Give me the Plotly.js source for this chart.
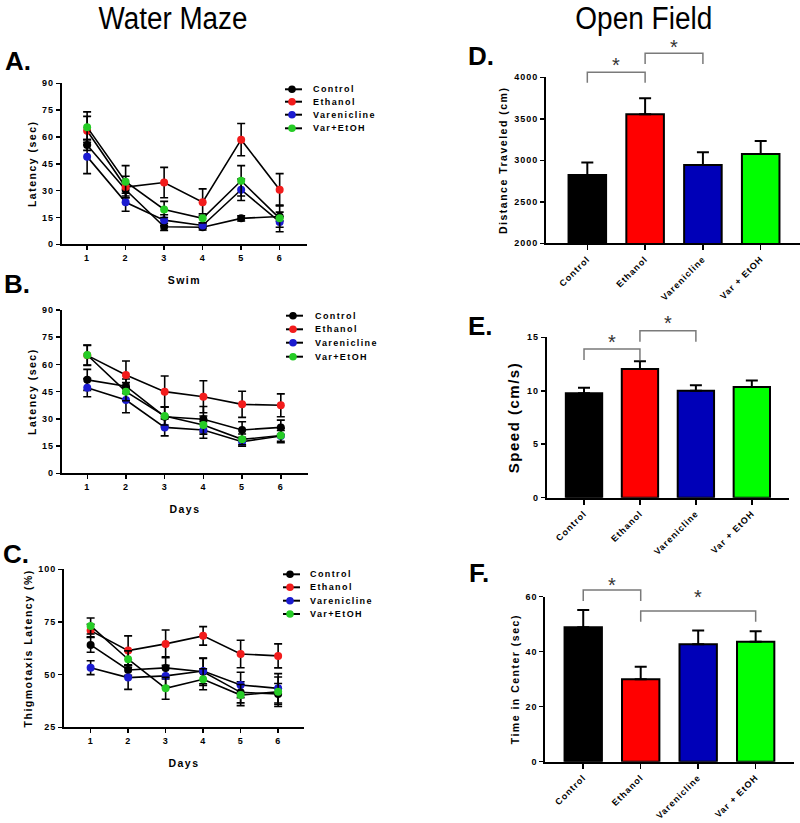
<!DOCTYPE html>
<html><head><meta charset="utf-8">
<script src="https://cdn.plot.ly/plotly-3.0.1.min.js"></script>
<style>
html,body{margin:0;padding:0;background:#fff;}
#chart{width:800px;height:823px;}
[class$="tick"] text, [class$="tick"]{letter-spacing:1px;}
text[class$="title"]{letter-spacing:1.5px;}
</style>
</head><body><div id="chart"></div>
<script>
// ---------- data ----------
const groups = ['Control', 'Ethanol', 'Varenicline', 'Var+EtOH'];
const barCategories = ['Control', 'Ethanol', 'Varenicline', 'Var + EtOH'];
const days = [1, 2, 3, 4, 5, 6];

// A. Water maze latency by swim (sec)
const swimControl = [55.5, 30.5, 9.8, 9.5, 14.5, 15.5];
const swimControlErr = [3, 3.5, 2, 1.5, 1.5, 2.5];
const swimEthanol = [63.5, 32, 34.5, 23.5, 58.5, 30.5];
const swimEthanolErr = [8, 6, 8.5, 7.5, 9, 9];
const swimVarenicline = [49, 23.5, 13.5, 10.5, 30.5, 12.5];
const swimVareniclineErr = [9.5, 5, 3, 1.5, 6, 3];
const swimVarEtoh = [65.5, 35, 19.5, 14.5, 35.5, 14.5];
const swimVarEtohErr = [8.5, 9, 4.5, 2.5, 8.5, 7.5];

// B. Water maze latency by day (sec)
const dayControl = [51.5, 48, 31.2, 29.8, 23.9, 25.3];
const dayControlErr = [5.8, 4, 5.5, 7, 4.5, 4];
const dayEthanol = [65, 54.2, 45, 42.2, 38, 37.5];
const dayEthanolErr = [5.5, 7.7, 8.6, 8.8, 7.2, 6.3];
const dayVarenicline = [47.2, 40.4, 25.3, 23.9, 17.4, 20.6];
const dayVareniclineErr = [5, 7, 4.7, 4.6, 2.4, 3];
const dayVarEtoh = [65.2, 45, 31.6, 26.6, 18.7, 20.8];
const dayVarEtohErr = [5.5, 5, 5, 5, 3, 4];

// C. Thigmotaxis latency (%)
const thigControl = [64.1, 52.2, 53.2, 51.4, 41.6, 40.8];
const thigControlErr = [3.5, 2.5, 5.3, 6.5, 5, 5];
const thigEthanol = [70.9, 61.4, 64.6, 68.4, 59.8, 58.9];
const thigEthanolErr = [3, 7, 6.6, 4.4, 6.5, 5.7];
const thigVarenicline = [53.3, 48.6, 49.4, 51.7, 45.1, 43.5];
const thigVareniclineErr = [3.3, 5.6, 5, 6, 6, 7];
const thigVarEtoh = [73.1, 57.3, 43.5, 47.8, 40.3, 41.9];
const thigVarEtohErr = [3.8, 4, 5.2, 5, 5, 7];

// D-F. Open field
const distance = [2823, 3554, 2944, 3076];
const distanceErr = [150, 193, 153, 157];
const speed = [9.76, 12.04, 10.01, 10.35];
const speedErr = [0.53, 0.72, 0.5, 0.6];
const centerTime = [48.85, 29.94, 42.67, 43.6];
const centerTimeErr = [6.3, 4.6, 5, 3.8];

// significance brackets: [from category, to category, bracket top, leg bottom (axis units), star offset px]
const sigD = [[0, 1, 4060, 3935, 12], [1, 2, 4289, 4160, 11]];
const sigE = [[0, 1, 13.9, 12.88, 12], [1, 2, 15.62, 14.59, 12]];
const sigF = [[0, 1, 62.4, 58.4, 10], [1, 3, 54.8, 50.9, 19]];

// ---------- layout geometry (pixels) ----------
const W = 800, H = 823;
const px = v => v / W, py = v => 1 - v / H;
const lineColors = ['#000000', '#f21c1c', '#1b1bd0', '#26cc26'];
const barColors = ['#000000', '#ff0000', '#0000b8', '#00ff00'];
const FONT = 'Liberation Sans, Arial, sans-serif';

const P = {
  A: {ax: '', xd: [61.7, 307], yd: [244.3, 83.3], xr: [0.34, 6.71], yr: [0, 90], dt: 15},
  B: {ax: '2', xd: [61.7, 308.3], yd: [473.3, 310], xr: [0.34, 6.71], yr: [0, 90], dt: 15},
  C: {ax: '3', xd: [64, 304], yd: [727.3, 569.3], xr: [0.29, 6.69], yr: [25, 100], dt: 25},
  D: {ax: '4', xd: [546, 800], yd: [243.3, 77.3], xr: [-0.715, 3.68], yr: [2000, 4000], dt: 500},
  E: {ax: '5', xd: [546.7, 789.3], yd: [497.7, 337.3], xr: [-0.667, 3.67], yr: [0, 15], dt: 5},
  F: {ax: '6', xd: [545.3, 794], yd: [761.7, 596.7], xr: [-0.66, 3.667], yr: [0, 60], dt: 20}
};
function xPaper(p, v) { const d = P[p]; return px(d.xd[0] + (v - d.xr[0]) / (d.xr[1] - d.xr[0]) * (d.xd[1] - d.xd[0])); }
function yPaperPx(p, v) { const d = P[p]; return d.yd[0] + (v - d.yr[0]) / (d.yr[1] - d.yr[0]) * (d.yd[1] - d.yd[0]); }

const traces = [];
const layout = {
  width: W, height: H, margin: {l: 0, r: 0, t: 0, b: 0},
  paper_bgcolor: '#fff', plot_bgcolor: 'rgba(0,0,0,0)', showlegend: false,
  font: {family: FONT, color: '#000'},
  shapes: [], annotations: []
};

function axisBase(extra) {
  return Object.assign({
    showgrid: false, zeroline: false, showline: true, linecolor: '#000', linewidth: 2,
    ticks: 'outside', ticklen: 4, tickwidth: 1.5, tickcolor: '#000',
    tickfont: {family: FONT, size: 9, weight: 'bold', color: '#000'}, fixedrange: true
  }, extra);
}

function linePanel(p, series, xTitle, yTitle, legendPos) {
  const d = P[p];
  const xa = 'x' + d.ax, ya = 'y' + d.ax;
  series.forEach((s, i) => {
    traces.push({
      type: 'scatter', mode: 'lines+markers', x: days, y: s[0], xaxis: xa, yaxis: ya,
      name: groups[i], showlegend: false,
      line: {color: '#000', width: 1.6},
      marker: {color: lineColors[i], size: 8},
      error_y: {type: 'data', array: s[1], visible: true, color: '#000', thickness: 1.6, width: 4}
    });
  });
  layout['xaxis' + d.ax] = axisBase({
    domain: [px(d.xd[0]), px(d.xd[1])], range: d.xr, anchor: ya,
    tickvals: days, title: {text: xTitle, font: {family: FONT, size: 10.5, weight: 'bold'}, standoff: 15}
  });
  layout['yaxis' + d.ax] = axisBase({
    domain: [py(d.yd[0]), py(d.yd[1])], range: d.yr, anchor: xa, dtick: d.dt, tick0: d.yr[0],
    title: {text: yTitle, font: {family: FONT, size: 10.5, weight: 'bold'}, standoff: 3}
  });
  // legend drawn from the group names and colours
  const [lx0, lx1, mx, tx, rows] = legendPos;
  groups.forEach((g, i) => {
    const yy = rows[i];
    layout.shapes.push({type: 'line', xref: 'paper', yref: 'paper', x0: px(lx0), x1: px(lx1), y0: py(yy), y1: py(yy), line: {color: '#000', width: 2}});
    layout.shapes.push({type: 'circle', xref: 'paper', yref: 'paper', x0: px(mx - 3.8), x1: px(mx + 3.8), y0: py(yy + 3.8), y1: py(yy - 3.8), fillcolor: lineColors[i], line: {width: 0}});
    layout.annotations.push({xref: 'paper', yref: 'paper', x: px(tx), y: py(yy), xanchor: 'left', yanchor: 'middle', showarrow: false,
      text: '<span style="letter-spacing:1.4px">' + g + '</span>', font: {family: FONT, size: 9, weight: 'bold', color: '#000'}});
  });
}

function barPanel(p, vals, errs, yTitle, titleSize, sig) {
  const d = P[p];
  const xa = 'x' + d.ax, ya = 'y' + d.ax;
  traces.push({
    type: 'bar', x: barCategories, y: vals, xaxis: xa, yaxis: ya, width: 0.65,
    marker: {color: barColors, line: {color: '#000', width: 2}},
    error_y: {type: 'data', symmetric: false, array: errs, arrayminus: errs.map(() => 0), visible: true, color: '#000', thickness: 2, width: 6}
  });
  layout['xaxis' + d.ax] = axisBase({
    domain: [px(d.xd[0]), px(d.xd[1])], range: d.xr, anchor: ya, type: 'category',
    tickangle: -45, ticklen: 5
  });
  layout['yaxis' + d.ax] = axisBase({
    domain: [py(d.yd[0]), py(d.yd[1])], range: d.yr, anchor: xa, dtick: d.dt, tick0: d.yr[0],
    title: {text: yTitle, font: {family: FONT, size: titleSize, weight: 'bold'}, standoff: 4}
  });
  sig.forEach(s => {
    const xa0 = xPaper(p, s[0]), xa1 = xPaper(p, s[1]);
    const top = yPaperPx(p, s[2]), leg = yPaperPx(p, s[3]);
    const gline = {color: '#7a7a7a', width: 1.5};
    layout.shapes.push({type: 'path', xref: 'paper', yref: 'paper',
      path: 'M' + xa0 + ',' + py(leg) + ' L' + xa0 + ',' + py(top) + ' L' + xa1 + ',' + py(top) + ' L' + xa1 + ',' + py(leg),
      line: gline});
    layout.annotations.push({xref: 'paper', yref: 'paper', x: (xa0 + xa1) / 2, y: py(top - s[4] + 4.5),
      xanchor: 'center', yanchor: 'middle', showarrow: false, text: '*',
      font: {family: FONT, size: 20, color: '#333'}});
  });
}

linePanel('A', [[swimControl, swimControlErr], [swimEthanol, swimEthanolErr], [swimVarenicline, swimVareniclineErr], [swimVarEtoh, swimVarEtohErr]],
  'Swim', 'Latency (sec)', [285, 302, 292, 311, [89.3, 101.7, 114.7, 128.3]]);
linePanel('B', [[dayControl, dayControlErr], [dayEthanol, dayEthanolErr], [dayVarenicline, dayVareniclineErr], [dayVarEtoh, dayVarEtohErr]],
  'Days', 'Latency (sec)', [286, 303, 293, 312.7, [315.7, 329.3, 342.7, 356.7]]);
linePanel('C', [[thigControl, thigControlErr], [thigEthanol, thigEthanolErr], [thigVarenicline, thigVareniclineErr], [thigVarEtoh, thigVarEtohErr]],
  'Days', 'Thigmotaxis Latency (%)', [283, 300, 290, 308.3, [574.3, 587.3, 600.7, 614]]);

barPanel('D', distance, distanceErr, 'Distance Traveled (cm)', 10.5, sigD);
barPanel('E', speed, speedErr, 'Speed (cm/s)', 15, sigE);
barPanel('F', centerTime, centerTimeErr, 'Time in Center (sec)', 10.5, sigF);

// headers and panel letters
const headers = [['Water Maze', 173, 18, 149], ['Open Field', 644, 18, 137]];
headers.forEach(h => layout.annotations.push({
  xref: 'paper', yref: 'paper', x: px(h[1]), y: py(h[2]), xanchor: 'center', yanchor: 'middle', showarrow: false,
  text: h[0], font: {family: FONT, size: 31, color: '#000'}}));
[['A.', 3, 61], ['B.', 2, 283.5], ['C.', 1, 553.5], ['D.', 466, 56], ['E.', 466, 326], ['F.', 467, 573]].forEach(l => layout.annotations.push({
  xref: 'paper', yref: 'paper', x: px(l[1]), y: py(l[2]), xanchor: 'left', yanchor: 'middle', showarrow: false,
  text: l[0], font: {family: FONT, size: 26, weight: 'bold', color: '#000'}}));

Plotly.newPlot('chart', traces, layout, {staticPlot: true, displayModeBar: false}).then(() => {
  // narrow header lettering, as in the original figure
  document.querySelectorAll('text.annotation-text').forEach(t => {
    headers.forEach(h => {
      if (t.textContent === h[0]) {
        t.setAttribute('textLength', h[3]);
        t.setAttribute('lengthAdjust', 'spacingAndGlyphs');
      }
    });
  });
});
</script>
</body></html>
